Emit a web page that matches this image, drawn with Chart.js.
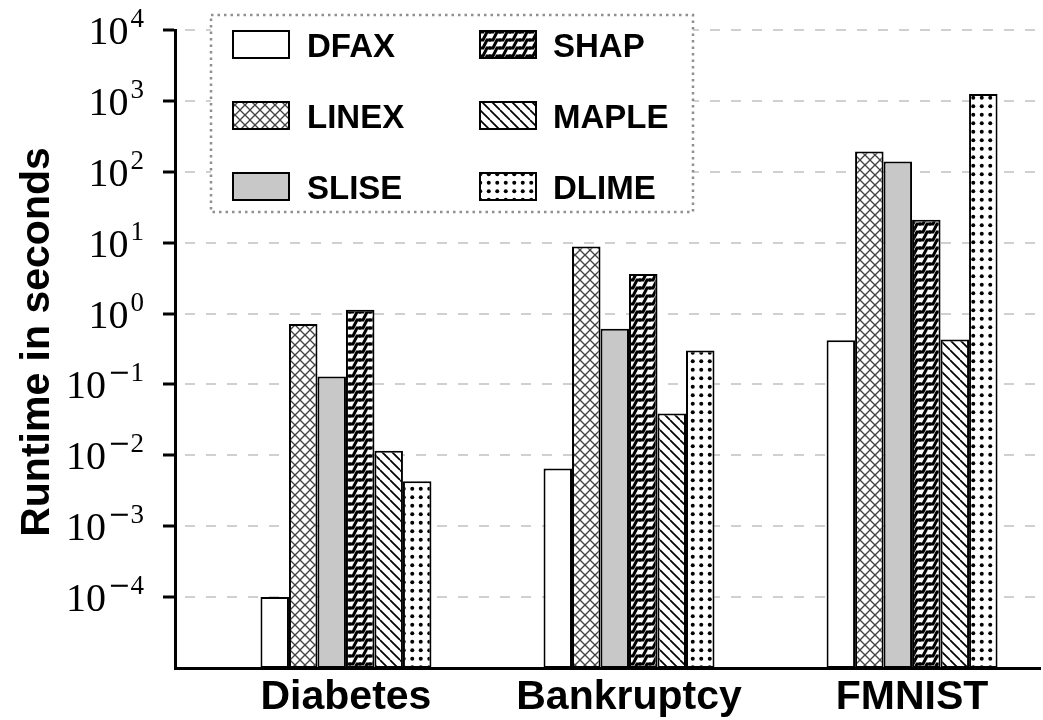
<!DOCTYPE html>
<html>
<head>
<meta charset="utf-8">
<script src="https://cdn.jsdelivr.net/npm/chart.js@4.4.1/dist/chart.umd.min.js"></script>
<style>
  html, body { margin: 0; padding: 0; background: #fff; }
  #wrap { width: 1043px; height: 720px; }
</style>
</head>
<body>
<div id="wrap"><canvas id="c" width="1043" height="720"></canvas></div>
<script>
// Datasets on the x axis and the explanation methods compared
const categories = ['Diabetes', 'Bankruptcy', 'FMNIST'];
const methods = ['DFAX', 'LINEX', 'SLISE', 'SHAP', 'MAPLE', 'DLIME'];

// Runtime in seconds, one value per dataset
const dfax  = [1.0e-4, 0.0065, 0.42];
const linex = [0.71, 8.8, 193];
const slise = [0.129, 0.61, 140];
const shap  = [1.13, 3.6, 21];
const maple = [0.0116, 0.039, 0.43];
const dlime = [0.0043, 0.30, 1250];

// Powers of ten shown on the y axis
const yTickExponents = [-4, -3, -2, -1, 0, 1, 2, 3, 4];

const canvas = document.getElementById('c');
const mainCtx = canvas.getContext('2d');

function makePattern(w, h, draw) {
  const t = document.createElement('canvas');
  t.width = w; t.height = h;
  const g = t.getContext('2d');
  g.fillStyle = '#fff';
  g.fillRect(0, 0, w, h);
  draw(g, w, h);
  return mainCtx.createPattern(t, 'repeat');
}

// cross hatch
const crossFill = makePattern(10, 10, (g, w, h) => {
  g.strokeStyle = '#444'; g.lineWidth = 1.3;
  for (const dx of [-w, 0, w]) {
    g.beginPath(); g.moveTo(dx, 0); g.lineTo(dx + w, h); g.stroke();
    g.beginPath(); g.moveTo(dx + w, 0); g.lineTo(dx, h); g.stroke();
  }
});
// stair-step stripes
const stairFill = makePattern(10, 8, (g, w, h) => {
  g.strokeStyle = '#000'; g.lineWidth = 3; g.lineJoin = 'miter';
  for (const dx of [-w, 0, w]) for (const dy of [-h, 0, h]) {
    g.beginPath();
    g.moveTo(dx - 1, dy + h);
    g.lineTo(dx + 3, dy + h);
    g.lineTo(dx + 7, dy);
    g.lineTo(dx + w + 1, dy);
    g.stroke();
  }
});
// back-slash stripes
const backFill = makePattern(10, 10, (g, w, h) => {
  g.strokeStyle = '#000'; g.lineWidth = 1.7;
  for (const dx of [-w, 0, w]) {
    g.beginPath(); g.moveTo(dx, 0); g.lineTo(dx + w, h); g.stroke();
  }
});
// dots
const dotFill = makePattern(17, 17, (g) => {
  g.fillStyle = '#000';
  for (const cx of [4.25, 12.75]) for (const cy of [4.25, 12.75]) {
    g.beginPath(); g.arc(cx, cy, 2.0, 0, Math.PI * 2); g.fill();
  }
});

const fills = ['#ffffff', crossFill, '#c8c8c8', stairFill, backFill, dotFill];
const seriesValues = [dfax, linex, slise, shap, maple, dlime];

// x positions: dataset i sits at value i
const xMin = -0.604, xMax = 2.452;

const datasets = methods.map((m, i) => ({
  label: m,
  data: seriesValues[i].map((v, j) => ({ x: j, y: v })),
  backgroundColor: fills[i],
  borderColor: '#000',
  borderWidth: 2,
  borderSkipped: false,
  categoryPercentage: 0.604,
  barPercentage: 1.0
}));

const overlay = {
  id: 'overlay',
  afterDraw(chart) {
    const ctx = chart.ctx;
    const ys = chart.scales.y;
    ctx.save();
    ctx.fillStyle = '#000';
    ctx.textAlign = 'left';
    ctx.textBaseline = 'alphabetic';

    // y tick labels as 10^n
    const rightEdge = 144;
    for (const e of yTickExponents) {
      const py = ys.getPixelForValue(Math.pow(10, e));
      const digits = String(Math.abs(e));
      ctx.font = '40px "Liberation Serif"';
      const wBase = ctx.measureText('10').width;
      ctx.font = '27px "Liberation Serif"';
      const wDig = ctx.measureText(digits).width;
      ctx.font = '27px "DejaVu Serif"';
      const wMinus = e < 0 ? ctx.measureText('\u2212').width : 0;
      const x0 = rightEdge - wDig - wMinus - 2 - wBase;
      ctx.font = '40px "Liberation Serif"';
      ctx.fillText('10', x0, py + 14);
      let sx = x0 + wBase + 2;
      if (e < 0) {
        ctx.font = '27px "DejaVu Serif"';
        ctx.fillText('\u2212', sx, py - 3);
        sx += wMinus;
      }
      ctx.font = '27px "Liberation Serif"';
      ctx.fillText(digits, sx, py - 3);
    }

    // y axis title
    ctx.save();
    ctx.translate(49, 342);
    ctx.rotate(-Math.PI / 2);
    ctx.font = 'bold 41px "Liberation Sans"';
    ctx.textAlign = 'center';
    ctx.fillText('Runtime in seconds', 0, 0);
    ctx.restore();

    // legend box
    const L = { x: 211, y: 15, w: 482, h: 197 };
    ctx.fillStyle = '#fff';
    ctx.fillRect(L.x, L.y, L.w, L.h);
    ctx.save();
    ctx.setLineDash([2.5, 4]);
    ctx.strokeStyle = '#8f8f8f';
    ctx.lineWidth = 2.5;
    ctx.strokeRect(L.x, L.y, L.w, L.h);
    ctx.restore();

    const patchX = [232, 479], textX = [307, 553], rowY = [44.5, 115.5, 186.5];
    chart.data.datasets.forEach((ds, i) => {
      const col = Math.floor(i / 3), row = i % 3;
      const px = patchX[col], cy = rowY[row];
      ctx.fillStyle = ds.backgroundColor;
      ctx.fillRect(px, cy - 14.5, 58, 29);
      ctx.strokeStyle = '#000';
      ctx.lineWidth = 2;
      ctx.strokeRect(px + 1, cy - 13.5, 56, 27);
      ctx.fillStyle = '#000';
      ctx.font = 'bold 33px "Liberation Sans"';
      ctx.textAlign = 'left';
      ctx.fillText(ds.label, textX[col], cy + 12);
    });
    ctx.restore();
  }
};

new Chart(canvas, {
  type: 'bar',
  data: { datasets },
  options: {
    responsive: false,
    animation: false,
    devicePixelRatio: 1,
    layout: { padding: { left: 0, right: 3, top: 30, bottom: 0 } },
    plugins: { legend: { display: false }, tooltip: { enabled: false } },
    scales: {
      x: {
        type: 'linear',
        min: xMin,
        max: xMax,
        offset: false,
        grid: { display: false, drawTicks: false, offset: false },
        border: { display: true, color: '#000', width: 3 },
        afterBuildTicks: s => { s.ticks = categories.map((_, i) => ({ value: i })); },
        ticks: {
          callback: v => categories[v] ?? '',
          color: '#000',
          font: { family: 'Liberation Sans', weight: 'bold', size: 41 },
          padding: 5,
          autoSkip: false,
          maxRotation: 0
        },
        afterFit: s => { s.height = 52; }
      },
      y: {
        type: 'logarithmic',
        min: 1e-5,
        max: 1e4,
        afterBuildTicks: s => { s.ticks = yTickExponents.map(e => ({ value: Math.pow(10, e) })); },
        ticks: { display: false },
        grid: { color: '#d0d0d0', lineWidth: 2, tickColor: '#000', tickWidth: 3, tickLength: 12, drawTicks: true },
        border: { display: true, color: '#000', width: 3, dash: [10, 11], dashOffset: -8 },
        afterFit: s => { s.width = 175; }
      }
    }
  },
  plugins: [overlay]
});
</script>
</body>
</html>
